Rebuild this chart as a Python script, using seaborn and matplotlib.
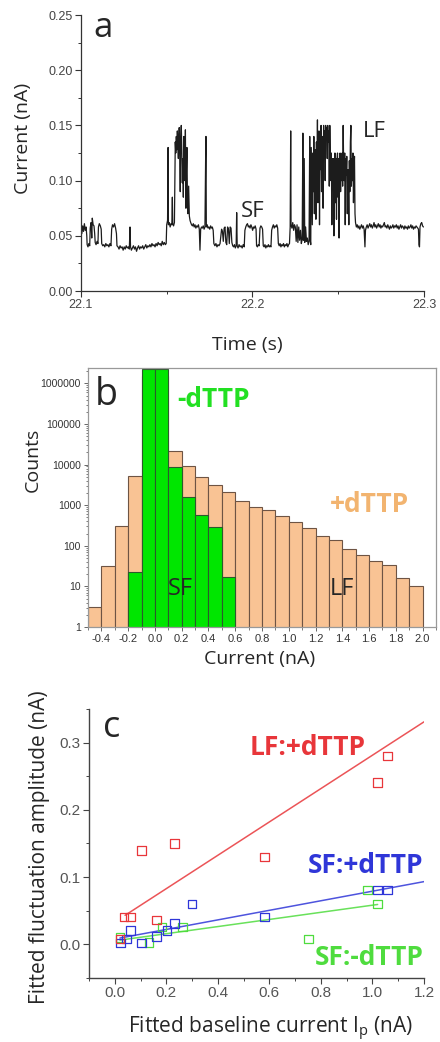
import numpy as np
import pandas as pd
import matplotlib
matplotlib.use('Agg')
import matplotlib.pyplot as plt
import seaborn as sns
from matplotlib.ticker import MultipleLocator, FixedLocator, LogLocator, NullFormatter

# ---- panel a: current trace (time in ms after 22.1 s, current in nA)
trace = [
    (0.0, .056), (0.5, .052), (1.0, .059), (1.5, .054), (2.0, .061), (2.5, .055), (3.0, .058), (3.4, .050),
    (3.6, .042), (4.1, .040), (4.6, .043), (5.1, .041), (5.4, .057), (5.9, .062), (6.3, .048), (6.6, .066),
    (7.1, .060), (7.6, .059), (8.0, .052), (8.3, .044), (8.8, .042), (9.4, .045), (9.9, .043), (10.2, .058),
    (10.7, .061), (11.3, .059), (11.8, .056), (12.1, .043), (12.7, .041), (13.3, .042), (13.9, .040), (14.5, .043),
    (15.1, .041), (15.7, .042), (16.3, .040), (16.9, .043), (17.5, .041), (17.9, .056), (18.4, .060), (19.0, .058),
    (19.6, .061), (20.2, .057), (20.7, .052), (21.0, .041), (21.6, .040), (22.2, .038), (22.8, .041), (23.4, .039),
    (24.0, .040), (24.6, .037), (25.2, .040), (25.8, .038), (26.4, .041), (27.0, .039), (27.6, .040), (28.2, .038),
    (28.6, .058), (28.9, .040), (29.4, .037), (30.0, .039), (30.6, .041), (31.2, .038), (31.8, .040), (32.4, .036),
    (33.0, .039), (33.6, .041), (34.2, .038), (34.8, .040), (35.4, .039), (36.0, .041), (36.6, .038), (37.2, .040),
    (37.8, .042), (38.4, .039), (39.0, .041), (39.6, .040), (40.2, .042), (40.8, .040), (41.4, .043), (42.0, .041),
    (42.6, .042), (43.2, .040), (43.8, .043), (44.4, .041), (45.0, .044), (45.6, .042), (46.2, .043), (46.8, .041),
    (47.4, .045), (48.0, .042), (48.6, .044), (49.2, .042), (49.7, .043),
    (50.0, .060), (50.5, .064), (50.8, .130), (51.0, .060), (51.5, .062), (52.0, .058), (52.5, .061), (53.0, .060),
    (53.3, .085), (53.5, .061), (54.0, .059), (54.5, .062), (54.8, .110), (55.0, .135), (55.3, .125), (55.6, .140),
    (55.9, .128), (56.2, .145), (56.5, .132), (56.8, .120), (57.0, .135), (57.3, .148), (57.6, .125), (57.9, .090),
    (58.2, .140), (58.5, .150), (58.8, .128), (59.1, .098), (59.4, .120), (59.7, .085), (60.0, .140), (60.3, .125),
    (60.6, .100), (60.9, .146), (61.2, .075), (61.5, .110), (61.8, .130), (62.1, .080), (62.4, .070), (62.8, .095),
    (63.2, .068), (63.6, .064), (64.0, .062), (64.5, .060),
    (65.0, .059), (65.5, .061), (66.0, .058), (66.5, .060), (67.0, .057), (67.5, .059), (68.0, .058), (68.5, .060),
    (69.0, .056), (69.4, .037), (69.8, .056), (70.3, .058), (70.8, .057), (71.3, .059), (71.8, .056), (72.3, .058),
    (72.7, .120), (72.9, .140), (73.1, .058), (73.6, .060), (74.1, .057), (74.6, .058), (75.1, .056), (75.6, .059),
    (76.1, .057), (76.6, .058), (77.1, .055),
    (77.5, .043), (78.1, .041), (78.7, .043), (79.3, .040), (79.9, .042), (80.5, .041), (81.1, .043), (81.6, .050),
    (82.0, .056), (82.5, .054), (83.0, .045), (83.5, .057), (84.0, .058), (84.5, .044), (85.0, .042), (85.5, .058),
    (86.0, .056), (86.5, .043), (87.0, .058), (87.5, .057), (88.0, .044), (88.5, .041), (89.0, .040), (89.5, .042),
    (90.0, .039), (90.5, .041), (90.8, .071), (91.1, .041), (91.6, .039), (92.2, .042), (92.8, .040), (93.4, .041),
    (94.0, .039), (94.6, .042), (95.2, .040), (95.6, .055), (96.1, .058), (96.6, .060), (97.1, .061), (97.6, .058),
    (98.1, .059), (98.6, .057), (99.1, .060), (99.6, .058), (100.1, .055), (100.6, .058), (101.1, .057), (101.6, .059),
    (102.1, .056), (102.4, .041), (102.9, .040), (103.4, .042), (103.9, .041), (104.4, .057), (104.9, .059), (105.4, .058),
    (105.9, .056), (106.3, .041), (106.8, .040), (107.3, .042), (107.8, .039), (108.3, .041), (108.8, .040), (109.3, .042),
    (109.8, .040), (110.3, .041), (110.8, .040), (111.2, .055), (111.7, .058), (112.2, .060), (112.7, .057), (113.2, .059),
    (113.7, .058), (114.2, .060), (114.7, .057), (115.1, .043), (115.6, .041), (116.1, .043), (116.6, .040), (117.1, .042),
    (117.6, .041), (118.1, .043), (118.6, .040), (119.1, .042), (119.6, .041), (120.1, .043), (120.6, .040), (121.1, .042),
    (121.6, .043),
    (122.0, .058), (122.3, .145), (122.5, .060), (123.0, .057), (123.5, .062), (124.0, .055), (124.5, .060), (125.0, .058),
    (125.5, .045), (126.0, .060), (126.5, .044), (127.0, .058), (127.5, .046), (128.0, .055), (128.5, .043), (129.0, .047),
    (129.4, .143), (129.7, .046), (130.2, .120), (130.5, .044), (131.0, .058), (131.5, .045), (132.0, .048), (132.5, .042),
    (133.0, .045), (133.4, .140), (133.7, .046), (134.0, .042),
    (134.3, .130), (134.6, .095), (134.9, .060), (135.2, .125), (135.5, .090), (135.8, .140), (136.1, .070), (136.4, .110),
    (136.7, .128), (137.0, .065), (137.3, .135), (137.6, .100), (137.9, .155), (138.2, .080), (138.5, .120), (138.8, .145),
    (139.1, .060), (139.4, .130), (139.7, .110), (140.0, .150), (140.3, .090), (140.6, .140), (140.9, .125), (141.2, .075),
    (141.5, .150), (141.8, .135), (142.1, .145), (142.4, .100), (142.7, .150), (143.0, .140), (143.3, .148), (143.6, .120),
    (143.9, .150), (144.2, .135), (144.5, .145), (144.8, .095), (145.1, .150), (145.4, .120), (145.7, .100), (146.0, .125),
    (146.3, .060), (146.6, .120), (146.9, .095), (147.2, .120), (147.5, .050), (147.8, .115), (148.1, .125), (148.4, .080),
    (148.7, .120), (149.0, .065), (149.3, .118), (149.6, .125), (149.9, .085), (150.2, .120), (150.5, .048), (150.8, .110),
    (151.1, .125), (151.4, .090), (151.7, .118), (152.0, .100), (152.3, .125), (152.6, .095), (152.9, .150), (153.2, .110),
    (153.5, .100), (153.8, .125), (154.1, .060), (154.4, .120), (154.7, .105), (155.0, .122), (155.3, .070), (155.6, .110),
    (155.9, .095), (156.2, .060), (156.5, .118), (156.8, .090), (157.1, .135), (157.4, .150), (157.7, .095), (158.0, .120),
    (158.3, .100), (158.6, .125), (158.9, .080), (159.2, .110), (159.5, .122), (159.8, .070), (160.1, .062), (160.6, .058),
    (161.1, .060), (161.6, .057), (162.1, .059), (162.6, .056), (163.1, .058), (163.6, .060), (164.1, .057), (164.6, .059),
    (165.1, .056), (165.6, .040), (165.9, .055), (166.4, .058), (166.9, .060), (167.4, .057), (167.9, .059), (168.4, .061),
    (168.9, .058), (169.4, .060), (169.9, .057), (170.4, .059), (170.9, .062), (171.4, .058), (171.9, .060), (172.4, .057),
    (172.9, .059), (173.4, .061), (173.9, .058), (174.4, .060), (174.9, .057), (175.4, .059), (175.9, .058), (176.4, .060),
    (176.9, .062), (177.4, .058), (177.9, .059), (178.4, .057), (178.9, .060), (179.4, .058), (179.9, .056), (180.4, .059),
    (180.9, .057), (181.4, .058), (181.9, .060), (182.4, .057), (182.9, .059), (183.4, .058), (183.9, .060), (184.4, .057),
    (184.9, .059), (185.4, .056), (185.9, .058), (186.4, .060), (186.9, .057), (187.4, .059), (187.9, .058), (188.4, .056),
    (188.9, .059), (189.4, .057), (189.9, .058), (190.4, .056), (190.9, .059), (191.4, .057), (191.9, .058), (192.4, .060),
    (192.9, .057), (193.4, .059), (193.9, .056), (194.4, .058), (194.9, .057), (195.4, .059), (195.9, .058), (196.4, .057),
    (196.8, .056), (197.1, .042), (197.4, .040), (197.7, .058), (198.2, .061), (198.7, .062), (199.2, .059), (199.7, .058),
]

# ---- panel b: histogram counts, bins of 0.1 nA
bin_left = [-0.5, -0.4, -0.3, -0.2, -0.1, 0.0, 0.1, 0.2, 0.3, 0.4, 0.5, 0.6, 0.7,
            0.8, 0.9, 1.0, 1.1, 1.2, 1.3, 1.4, 1.5, 1.6, 1.7, 1.8, 1.9]
counts_plus = [3.1, 32, 310, 5100, 1.5e6, 1.5e6, 21700, 9400, 4950, 3200, 2060, 1280, 890,
               740, 545, 375, 280, 170, 136, 85, 60, 41, 33, 16, 10]
bin_left_minus = [-0.2, -0.1, 0.0, 0.1, 0.2, 0.3, 0.4, 0.5]
counts_minus = [22, 2.2e6, 2.2e6, 8600, 1620, 580, 290, 17]

# ---- panel c: fitted amplitudes vs baseline current
lf_plus_x = [0.020, 0.035, 0.062, 0.104, 0.162, 0.232, 0.580, 1.019, 1.058]
lf_plus_y = [0.008, 0.041, 0.041, 0.140, 0.036, 0.150, 0.130, 0.241, 0.280]
sf_plus_x = [0.022, 0.045, 0.062, 0.104, 0.162, 0.203, 0.232, 0.300, 0.580, 1.019, 1.058]
sf_plus_y = [0.002, 0.008, 0.021, 0.002, 0.012, 0.021, 0.031, 0.060, 0.041, 0.081, 0.081]
sf_minus_x = [0.020, 0.132, 0.184, 0.263, 0.751, 0.980, 1.019]
sf_minus_y = [0.010, 0.003, 0.026, 0.026, 0.008, 0.081, 0.060]

fit_labels = ['LF:+dTTP', 'SF:+dTTP', 'SF:-dTTP']
fit_slope = [0.248, 0.0711, 0.053]
fit_intercept = [0.0333, 0.008, 0.0053]
fit_start = [0.04, 0.02, 0.02]
fit_end = [1.2, 1.2, 1.02]

red, blue, green = '#e8363a', '#2f36d8', '#4fdc3e'

sns.set_style('ticks')
plt.rcParams['font.family'] = ['Open Sans', 'DejaVu Sans']
plt.rcParams['mathtext.fontset'] = 'custom'
plt.rcParams['mathtext.rm'] = 'Open Sans'

fig = plt.figure(figsize=(4.4, 10.42), dpi=100)
ax_a = fig.add_axes([0.184, 0.7207, 0.7795, 0.2649])
ax_b = fig.add_axes([0.2, 0.3983, 0.7909, 0.2486])
ax_c = fig.add_axes([0.2023, 0.0614, 0.7614, 0.2582])


def tick_font(ax, size, color):
    for lab in ax.get_xticklabels() + ax.get_yticklabels():
        lab.set_fontfamily(['Liberation Sans', 'DejaVu Sans'])
        lab.set_fontsize(size)
        lab.set_color(color)


# Panel a
df_a = pd.DataFrame(trace, columns=['ms', 'current'])
df_a['time'] = 22.1 + df_a['ms'] / 1000
sns.lineplot(data=df_a, x='time', y='current', ax=ax_a, color='#1c1c1c', lw=0.9,
             estimator=None, sort=False)
ax_a.set_xlim(22.1, 22.3)
ax_a.set_ylim(0, 0.25)
ax_a.set_xticks([22.1, 22.2, 22.3])
ax_a.set_xticklabels(['22.1', '22.2', '22.3'])
ax_a.xaxis.set_minor_locator(MultipleLocator(0.05))
ax_a.set_yticks([0, 0.05, 0.10, 0.15, 0.20, 0.25])
ax_a.set_yticklabels(['0.00', '0.05', '0.10', '0.15', '0.20', '0.25'])
ax_a.yaxis.set_minor_locator(MultipleLocator(0.025))
sns.despine(ax=ax_a)
ax_a.tick_params(which='major', direction='out', length=4, width=0.8, color='#333', pad=2)
ax_a.tick_params(which='minor', direction='out', length=2.5, width=0.7, color='#333')
for s in ['left', 'bottom']:
    ax_a.spines[s].set_color('#333')
    ax_a.spines[s].set_linewidth(0.9)
tick_font(ax_a, 9, '#444')
ax_a.set_xlabel('Time (s)', fontsize=14)
ax_a.xaxis.set_label_coords(0.484, -0.163)
ax_a.set_ylabel('Current (nA)', fontsize=14)
ax_a.yaxis.set_label_coords(-0.143, 0.554)
ax_a.text(0.035, 0.92, 'a', transform=ax_a.transAxes, fontsize=25, va='baseline')
ax_a.text(22.1933, 0.067, 'SF', fontsize=16, va='baseline')
ax_a.text(22.2644, 0.1395, 'LF', fontsize=16, va='baseline')

# Panel b
centers_plus = [b + 0.05 for b in bin_left]
centers_minus = [b + 0.05 for b in bin_left_minus]
edges = bin_left + [2.0]
sns.histplot(x=centers_plus, weights=counts_plus, bins=edges, ax=ax_b,
             color='#f9c394', edgecolor='#6e5444', linewidth=0.8, alpha=1)
sns.histplot(x=centers_minus, weights=counts_minus, bins=bin_left_minus + [0.6], ax=ax_b,
             color='#00e600', edgecolor='#2c5a2c', linewidth=0.8, alpha=1)
ax_b.set_yscale('log')
ax_b.set_xlim(-0.5, 2.1)
ax_b.set_ylim(1, 2.4e6)
ax_b.yaxis.set_major_locator(FixedLocator([1, 10, 100, 1000, 10000, 100000, 1000000]))
ax_b.set_yticklabels(['1', '10', '100', '1000', '10000', '100000', '1000000'])
ax_b.yaxis.set_minor_locator(LogLocator(base=10, subs=np.arange(2, 10)))
ax_b.yaxis.set_minor_formatter(NullFormatter())
ax_b.set_xticks([-0.4, -0.2, 0.0, 0.2, 0.4, 0.6, 0.8, 1.0, 1.2, 1.4, 1.6, 1.8, 2.0])
ax_b.set_xticklabels(['-0.4', '-0.2', '0.0', '0.2', '0.4', '0.6', '0.8', '1.0', '1.2',
                      '1.4', '1.6', '1.8', '2.0'])
ax_b.xaxis.set_minor_locator(MultipleLocator(0.1))
ax_b.tick_params(which='major', direction='out', length=3, width=0.7, color='#666', pad=2)
ax_b.tick_params(which='minor', direction='out', length=1.8, width=0.6, color='#666')
for s in ax_b.spines.values():
    s.set_color('#999')
    s.set_linewidth(0.9)
tick_font(ax_b, 7.5, '#333')
for lab in ax_b.get_xticklabels():
    lab.set_fontsize(8)
ax_b.set_xlabel('Current (nA)', fontsize=14)
ax_b.xaxis.set_label_coords(0.494, -0.089)
ax_b.set_ylabel('Counts', fontsize=14)
ax_b.yaxis.set_label_coords(-0.132, 0.645)
ax_b.text(0.02, 0.857, 'b', transform=ax_b.transAxes, fontsize=27, va='baseline')
ax_b.text(0.165, 0.849, '-dTTP', transform=ax_b.get_xaxis_transform(), fontsize=19,
          fontweight='bold', color='#22e022', va='baseline')
ax_b.text(1.308, 0.444, '+dTTP', transform=ax_b.get_xaxis_transform(), fontsize=19,
          fontweight='bold', color='#f2b470', va='baseline')
ax_b.text(0.098, 0.124, 'SF', transform=ax_b.get_xaxis_transform(), fontsize=17, va='baseline')
ax_b.text(1.308, 0.124, 'LF', transform=ax_b.get_xaxis_transform(), fontsize=17, va='baseline')

# Panel c
groups = [(sf_minus_x, sf_minus_y, green), (sf_plus_x, sf_plus_y, blue), (lf_plus_x, lf_plus_y, red)]
for gx, gy, col in groups:
    sns.scatterplot(x=gx, y=gy, ax=ax_c, marker='s', s=38, facecolor='none',
                    edgecolor=col, linewidth=0.9, zorder=3)
fit_colors = [red, blue, green]
for i in range(3):
    fx = np.array([fit_start[i], fit_end[i]])
    fy = fit_intercept[i] + fit_slope[i] * fx
    sns.lineplot(x=fx, y=fy, ax=ax_c, color=fit_colors[i], lw=1.1, alpha=0.85, zorder=2)
ax_c.set_xlim(-0.1, 1.2)
ax_c.set_ylim(-0.05, 0.35)
ax_c.set_xticks([0.0, 0.2, 0.4, 0.6, 0.8, 1.0, 1.2])
ax_c.set_xticklabels(['0.0', '0.2', '0.4', '0.6', '0.8', '1.0', '1.2'])
ax_c.xaxis.set_minor_locator(MultipleLocator(0.1))
ax_c.set_yticks([0.0, 0.1, 0.2, 0.3])
ax_c.set_yticklabels(['0.0', '0.1', '0.2', '0.3'])
ax_c.yaxis.set_minor_locator(MultipleLocator(0.05))
sns.despine(ax=ax_c)
ax_c.tick_params(which='major', direction='out', length=4, width=0.8, color='#444', pad=2)
ax_c.tick_params(which='minor', direction='out', length=2.5, width=0.7, color='#444')
for s in ['left', 'bottom']:
    ax_c.spines[s].set_color('#444')
    ax_c.spines[s].set_linewidth(1.0)
tick_font(ax_c, 11, '#555')
ax_c.set_xlabel('Fitted baseline current I$_\\mathrm{p}$ (nA)', fontsize=15)
ax_c.xaxis.set_label_coords(0.543, -0.138)
ax_c.set_ylabel('Fitted fluctuation amplitude (nA)', fontsize=15)
ax_c.yaxis.set_label_coords(-0.116, 0.487)
ax_c.text(0.042, 0.896, 'c', transform=ax_c.transAxes, fontsize=26, va='baseline')
label_pos = [(0.525, 0.2816), (0.75, 0.106), (0.777, -0.031)]
for i in range(3):
    ax_c.text(label_pos[i][0], label_pos[i][1], fit_labels[i], fontsize=19, fontweight='bold',
              color=fit_colors[i], va='baseline')

fig.savefig('out.png', dpi=100)
